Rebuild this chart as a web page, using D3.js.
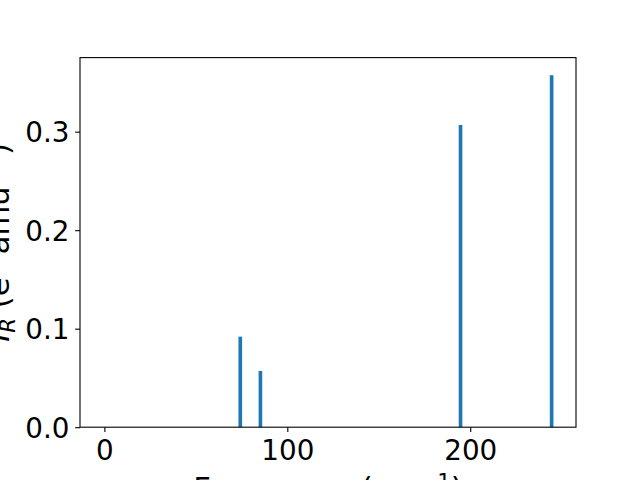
<!DOCTYPE html>
<html>
<head>
<meta charset="utf-8">
<script src="https://cdn.jsdelivr.net/npm/d3@7"></script>
<style>
  html, body { margin: 0; padding: 0; background: #fff; }
  svg { display: block; }
  text { font-family: "DejaVu Sans", sans-serif; }
</style>
</head>
<body>
<svg id="chart" width="640" height="480"></svg>
<script>
// ---- data ----
const frequencies = [0, 74.3, 85.3, 194.7, 244.5];      // cm^-1
const intensities = [0, 0.0919, 0.0571, 0.3068, 0.3573]; // e^2 amu^-1
const xTickValues = [0, 100, 200];
const yTickValues = [0.0, 0.1, 0.2, 0.3];

// ---- layout ----
const plotLeft = 80, plotRight = 576, plotTop = 57.6, plotBottom = 427.2;
const barWidth = 2;
const tickFontPx = 27.78;
const labelFontPx = 30.56;
const tickLen = 4.86;
const barColor = "#1f77b4";

const svg = d3.select("#chart");

const xmin = d3.min(frequencies, d => d - barWidth / 2);
const xmax = d3.max(frequencies, d => d + barWidth / 2);
const xpad = (xmax - xmin) * 0.05;
const x = d3.scaleLinear().domain([xmin - xpad, xmax + xpad]).range([plotLeft, plotRight]);
const y = d3.scaleLinear().domain([0, d3.max(intensities) * 1.05]).range([plotBottom, plotTop]);

const data = frequencies.map((f, i) => ({ f, v: intensities[i] }));

// bars
svg.append("g").selectAll("rect").data(data).join("rect")
  .attr("x", d => x(d.f - barWidth / 2))
  .attr("width", d => x(d.f + barWidth / 2) - x(d.f - barWidth / 2))
  .attr("y", d => y(d.v))
  .attr("height", d => y(0) - y(d.v))
  .attr("fill", barColor);

// x axis
const gx = svg.append("g").attr("transform", `translate(0,${plotBottom})`)
  .call(d3.axisBottom(x).tickValues(xTickValues).tickSize(tickLen).tickFormat(d3.format("d")));
gx.select(".domain").remove();
gx.selectAll(".tick line").attr("stroke", "#000").attr("stroke-width", 1.1);
gx.selectAll(".tick text")
  .attr("y", 32.8).attr("dy", null)
  .attr("fill", "#000")
  .style("font-size", tickFontPx + "px")
  .style("font-family", "DejaVu Sans");

// y axis
const gy = svg.append("g").attr("transform", `translate(${plotLeft},0)`)
  .call(d3.axisLeft(y).tickValues(yTickValues).tickSize(tickLen).tickFormat(d3.format(".1f")));
gy.select(".domain").remove();
gy.selectAll(".tick line").attr("stroke", "#000").attr("stroke-width", 1.1);
gy.selectAll(".tick text")
  .attr("x", -10.5).attr("dy", "0.36em")
  .attr("fill", "#000")
  .style("font-size", tickFontPx + "px")
  .style("font-family", "DejaVu Sans");

// frame (spines)
svg.append("rect")
  .attr("x", plotLeft).attr("y", plotTop)
  .attr("width", plotRight - plotLeft).attr("height", plotBottom - plotTop)
  .attr("fill", "none").attr("stroke", "#000").attr("stroke-width", 1.1);

const supPx = labelFontPx * 0.7;

// x label
const xl = svg.append("text")
  .attr("x", (plotLeft + plotRight) / 2).attr("y", 499.3)
  .attr("text-anchor", "middle")
  .style("font-size", labelFontPx + "px");
xl.append("tspan").text("Frequency (cm");
xl.append("tspan").attr("dy", -10.7).style("font-size", supPx + "px").text("\u22121");
xl.append("tspan").attr("dy", 10.7).text(")");

// y label
const yl = svg.append("text")
  .attr("transform", `translate(9,${(plotTop + plotBottom) / 2}) rotate(-90)`)
  .attr("text-anchor", "middle")
  .style("font-size", labelFontPx + "px");
yl.append("tspan").style("font-style", "italic").text("I");
yl.append("tspan").attr("dy", 5.5).style("font-style", "italic").style("font-size", supPx + "px").text("R");
yl.append("tspan").attr("dy", -5.5).text(" (e");
yl.append("tspan").attr("dy", -10.7).style("font-size", supPx + "px").text("2");
yl.append("tspan").attr("dy", 10.7).text(" amu");
yl.append("tspan").attr("dy", -10.7).style("font-size", supPx + "px").text("\u22121");
yl.append("tspan").attr("dy", 10.7).text(")");
</script>
</body>
</html>
